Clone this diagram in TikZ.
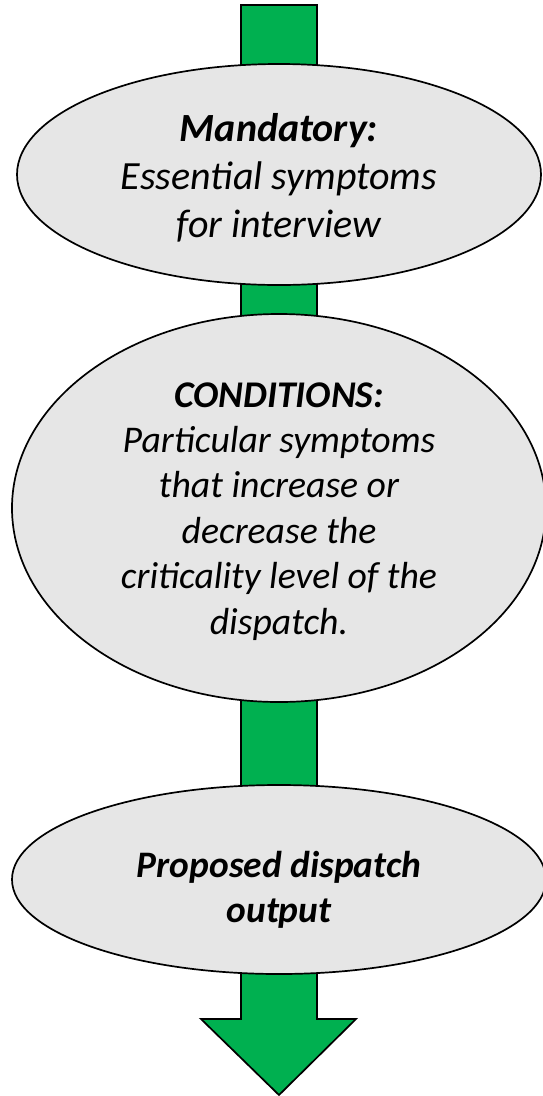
\documentclass[tikz,border=0pt]{standalone}
\usepackage{fontspec}
\setmainfont{Carlito}
\definecolor{arrowgreen}{RGB}{0,176,80}
\definecolor{ovalgray}{RGB}{230,230,230}
\usetikzlibrary{shapes.geometric}
\begin{document}
\begin{tikzpicture}[x=1pt,y=-1pt,
    oval/.style={ellipse,draw=black,line width=1.7pt,fill=ovalgray,inner sep=0pt,align=center,text depth=0pt},
    flowarrow/.style={draw=black,line width=1.7pt,fill=arrowgreen,line join=miter}]
  \useasboundingbox (0,0) rectangle (542,1096);
  \coordinate (tip) at (279,1095);
  \draw[flowarrow] (241,5) -- (317,5) -- (317,1019) -- (356,1019) -- (tip) -- (201,1019) -- (241,1019) -- cycle;
  \node[oval,minimum width=524pt,minimum height=221pt,text height=126pt,font=\fontsize{40}{48.25}\selectfont\itshape] (mand) at (279,174.5) {\textbf{Mandatory:}\\Essential symptoms\\for interview};
  \node[oval,minimum width=534pt,minimum height=388pt,text height=252pt,font=\fontsize{37.7}{45.4}\selectfont\itshape] (cond) at (279,508) {\textbf{CONDITIONS:}\\Particular symptoms\\that increase or\\decrease the\\criticality level of the\\dispatch.};
  \node[oval,minimum width=534pt,minimum height=189pt,text height=85pt,font=\fontsize{37.4}{45}\selectfont\bfseries\itshape] (outp) at (279,879.5) {Proposed dispatch\\output};
\end{tikzpicture}
\end{document}
